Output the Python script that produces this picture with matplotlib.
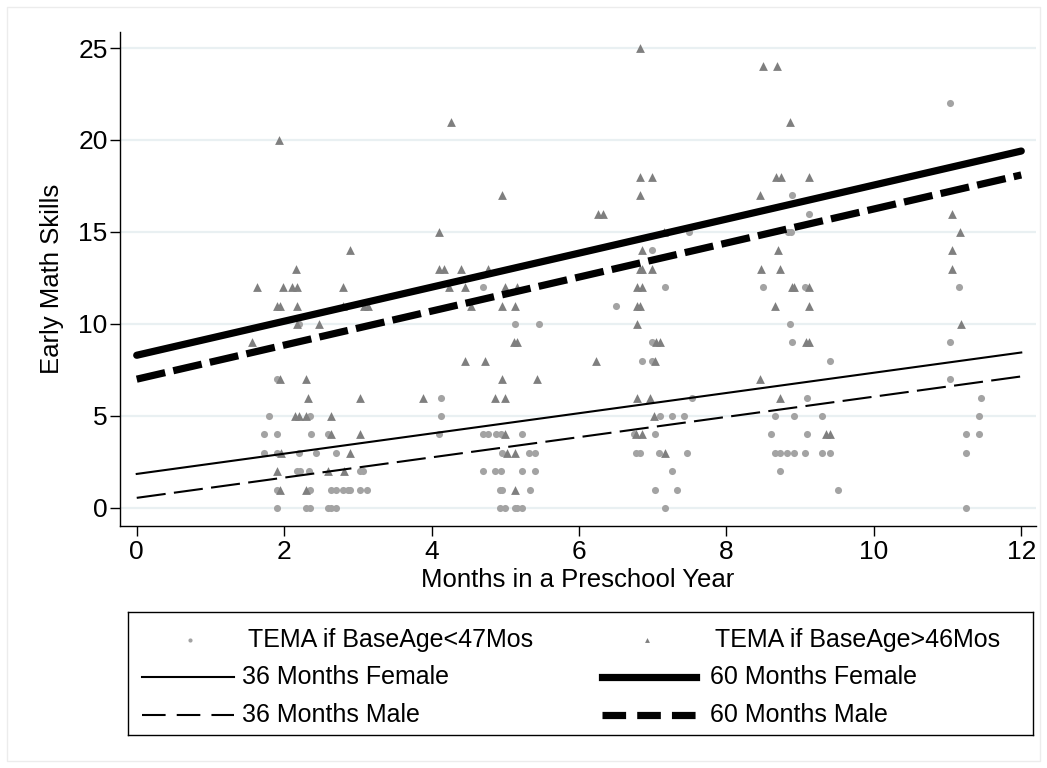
import numpy as np
import matplotlib.pyplot as plt
from matplotlib.patches import Rectangle

plt.rcParams['font.family'] = ['Liberation Sans', 'DejaVu Sans']
plt.rcParams['lines.scale_dashes'] = False

# TEMA scores, children younger than 47 months at baseline
young_x = [1.80, 1.73, 1.90, 2.36, 2.59, 1.73, 1.90, 2.20, 2.43, 2.70,
           2.17, 2.21, 2.34, 3.03, 3.07, 1.90, 2.35, 2.63, 2.70, 2.80,
           2.86, 2.90, 3.03, 3.13, 1.90, 2.29, 2.35, 2.59, 2.63, 2.70,
           1.90, 2.35, 2.20, 4.13, 4.13, 4.10,
           4.70, 5.13, 5.46, 4.70, 4.76, 4.87, 4.94, 5.23, 4.96, 5.32,
           5.40, 4.70, 4.86, 4.94, 5.23, 5.40, 4.93, 4.96, 5.33, 4.93,
           5.00, 5.13, 5.16, 5.23,
           7.49, 6.99, 7.17, 6.50, 6.99, 6.86, 6.99, 7.53, 7.10, 7.26,
           7.43, 6.75, 7.03, 6.77, 6.83, 7.09, 7.46, 7.26, 7.03, 7.33,
           7.17,
           8.49, 8.89, 9.12, 8.83, 8.88, 9.06, 8.86, 8.89, 9.40, 8.66,
           8.92, 9.29, 8.60, 9.09, 9.09, 8.66, 8.73, 8.82, 8.92, 9.06,
           9.29, 9.40, 8.73, 9.52,
           11.03, 11.15, 11.03, 11.03, 11.46, 11.42, 11.25, 11.42, 11.25, 11.25]
young_y = [5, 4, 4, 4, 4, 3, 3, 3, 3, 3,
           2, 2, 2, 2, 2, 1, 1, 1, 1, 1,
           1, 1, 1, 1, 0, 0, 0, 0, 0, 0,
           7, 5, 10, 6, 5, 4,
           12, 10, 10, 4, 4, 4, 4, 4, 3, 3,
           3, 2, 2, 2, 2, 2, 1, 1, 1, 0,
           0, 0, 0, 0,
           15, 14, 12, 11, 9, 8, 8, 6, 5, 5,
           5, 4, 4, 3, 3, 3, 3, 2, 1, 1,
           0,
           12, 17, 16, 15, 15, 12, 10, 9, 8, 5,
           5, 5, 4, 4, 6, 3, 3, 3, 3, 3,
           3, 3, 2, 1,
           22, 12, 9, 7, 6, 5, 4, 4, 3, 0]

# TEMA scores, children older than 46 months at baseline
old_x = [1.93, 2.90, 2.16, 1.63, 1.99, 2.10, 2.17, 2.80, 1.90, 1.94,
         2.17, 2.80, 3.08, 3.14, 2.17, 2.47, 1.56, 1.94, 2.30, 2.33,
         3.03, 3.89, 2.15, 2.20, 2.30, 2.63, 2.64, 3.03, 1.96, 2.90,
         1.90, 2.60, 2.81, 1.94, 2.30,
         4.27, 4.10, 4.10, 4.17, 4.40, 4.76, 4.23, 4.46, 5.00, 5.16,
         4.53, 4.96, 5.13, 5.12, 5.16, 4.46, 4.73, 4.96, 5.43, 4.86,
         5.00, 5.00, 5.03, 5.13, 5.13, 4.96,
         6.83, 6.83, 6.99, 6.83, 6.26, 6.33, 7.16, 6.86, 6.83, 6.86,
         6.99, 6.79, 6.86, 6.79, 6.83, 6.79, 7.04, 7.10, 6.23, 7.03,
         6.79, 6.97, 7.02, 6.77, 6.86, 7.17,
         8.49, 8.69, 8.86, 8.67, 8.74, 9.12, 8.46, 8.70, 8.47, 8.73,
         8.89, 8.92, 9.12, 8.66, 9.12, 9.08, 9.12, 8.46, 8.73, 9.35,
         9.40,
         11.06, 11.17, 11.06, 11.06, 11.18]
old_y = [20, 14, 13, 12, 12, 12, 12, 12, 11, 11,
         11, 11, 11, 11, 10, 10, 9, 7, 7, 6,
         6, 6, 5, 5, 5, 5, 4, 4, 3, 3,
         2, 2, 2, 1, 1,
         21, 15, 13, 13, 13, 13, 12, 12, 12, 12,
         11, 11, 11, 9, 9, 8, 8, 7, 7, 6,
         6, 4, 3, 3, 1, 17,
         25, 18, 18, 17, 16, 16, 15, 14, 13, 13,
         13, 12, 12, 11, 11, 10, 9, 9, 8, 8,
         6, 6, 5, 4, 4, 3,
         24, 24, 21, 18, 18, 18, 17, 14, 13, 13,
         12, 12, 12, 11, 11, 9, 9, 7, 6, 4,
         4,
         16, 15, 14, 13, 10]

# fitted lines: value at 0 and 12 months
months = [0, 12]
fem36 = [1.85, 8.45]
male36 = [0.55, 7.15]
fem60 = [8.30, 19.40]
male60 = [7.00, 18.10]

dash = (0, (21, 6))

fig = plt.figure(figsize=(10.47, 7.68), dpi=100)
fig.patches.append(Rectangle((7 / 1047, 7 / 768), 1033 / 1047, 754 / 768,
                             transform=fig.transFigure, fill=False,
                             edgecolor='#ececec', linewidth=1))
ax = fig.add_axes([120 / 1047, 1 - 526 / 768, 916 / 1047, 494 / 768])

ax.scatter(young_x, young_y, s=26, marker='o', color='#a3a3a3', linewidths=0, zorder=2)
ax.scatter(old_x, old_y, s=40, marker='^', color='#7f7f7f', linewidths=0, zorder=2)

ax.plot(months, fem36, color='black', lw=1.5, zorder=3)
ax.plot(months, male36, color='black', lw=1.5, ls=dash, zorder=3)
ax.plot(months, fem60, color='black', lw=5.2, solid_capstyle='round', zorder=3)
ax.plot(months, male60, color='black', lw=5.2, ls=dash, zorder=3)

ax.set_xlim(-0.227, 12.2)
ax.set_ylim(-0.98, 25.87)
ax.set_xticks(range(0, 13, 2))
ax.set_yticks(range(0, 26, 5))
ax.yaxis.grid(True, color='#e9f0f2', lw=1.6)
ax.set_axisbelow(True)
for side in ['top', 'right']:
    ax.spines[side].set_visible(False)
for side in ['left', 'bottom']:
    ax.spines[side].set_linewidth(1.0)
ax.tick_params(axis='both', direction='out', length=7, width=1.0, labelsize=19, pad=2)
ax.tick_params(axis='x', pad=3)
ax.set_xlabel('Months in a Preschool Year', fontsize=18.5, labelpad=3)
ax.set_ylabel('Early Math Skills', fontsize=18.5, labelpad=10)

# legend box laid out by hand in pixel units (two columns, three rows)
lax = fig.add_axes([128 / 1047, 1 - 735 / 768, 905 / 1047, 123 / 768])
lax.set_xlim(0, 905)
lax.set_ylim(123, 0)
lax.set_xticks([])
lax.set_yticks([])
for s in lax.spines.values():
    s.set_linewidth(1.0)

rows = [28, 65, 103]
lax.plot([62], [rows[0]], ls='none', marker='o', ms=3, color='#a3a3a3', mew=0)
lax.plot([519], [rows[0]], ls='none', marker='^', ms=3.5, color='#7f7f7f', mew=0)
lax.plot([14, 106], [rows[1]] * 2, color='black', lw=1.5)
lax.plot([14, 106], [rows[2]] * 2, color='black', lw=1.5, ls=(0, (17, 8)))
lax.plot([474, 568], [rows[1]] * 2, color='black', lw=5.2)
lax.plot([474, 568], [rows[2]] * 2, color='black', lw=5.2, ls=(0, (17, 8)))

left_labels = ['TEMA if BaseAge<47Mos', '36 Months Female', '36 Months Male']
right_labels = ['TEMA if BaseAge>46Mos', '60 Months Female', '60 Months Male']
left_x = [120, 114, 114]
right_x = [587, 582, 582]
for i in range(3):
    lax.text(left_x[i], rows[i], left_labels[i], fontsize=18, va='center', ha='left')
    lax.text(right_x[i], rows[i], right_labels[i], fontsize=18, va='center', ha='left')

fig.savefig('out.png', dpi=100)
